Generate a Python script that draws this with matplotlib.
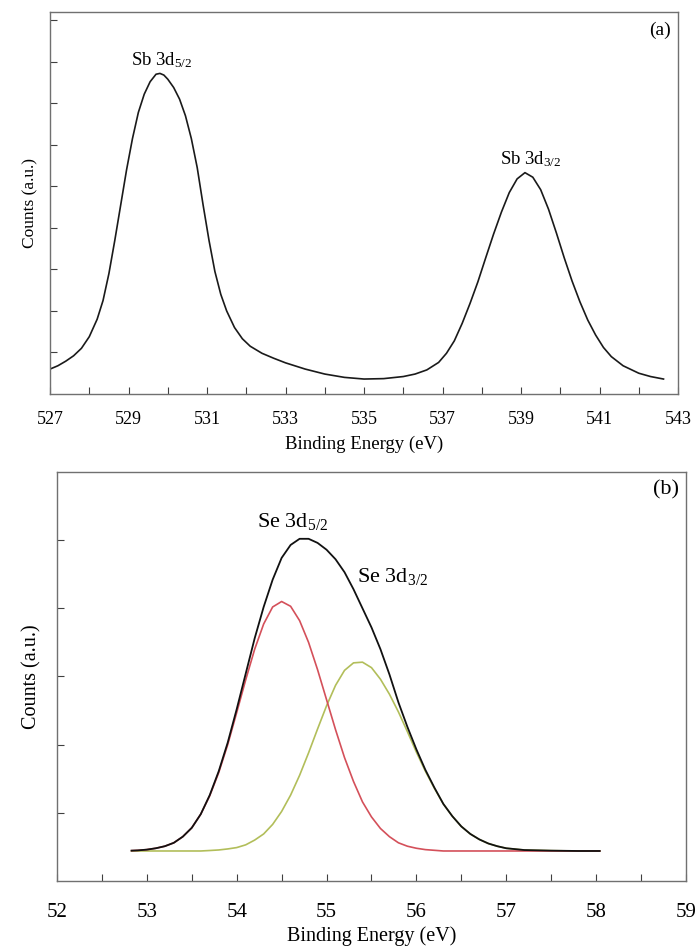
import numpy as np
import matplotlib
matplotlib.use("Agg")
import matplotlib.pyplot as plt
from matplotlib.ticker import MultipleLocator

plt.rcParams['font.family'] = ['Liberation Serif', 'DejaVu Serif']
plt.rcParams['mathtext.fontset'] = 'custom'
plt.rcParams['mathtext.rm'] = 'Liberation Serif'
plt.rcParams['mathtext.it'] = 'Liberation Serif'

# --- (a) Sb 3d spectrum ---
sb_energy = [527.0, 527.2, 527.4, 527.6, 527.8, 528.0, 528.2, 528.35, 528.5, 528.65,
             528.8, 528.95, 529.1, 529.25, 529.4, 529.55, 529.7, 529.8, 529.9, 530.0,
             530.15, 530.3, 530.45, 530.6, 530.75, 530.9, 531.05, 531.2, 531.35, 531.5,
             531.7, 531.9, 532.1, 532.4, 532.7, 533.0, 533.5, 534.0, 534.5, 535.0,
             535.5, 536.0, 536.3, 536.6, 536.9, 537.1, 537.3, 537.5, 537.7, 537.9,
             538.1, 538.3, 538.5, 538.7, 538.9, 539.1, 539.3, 539.5, 539.7, 539.9,
             540.1, 540.3, 540.5, 540.7, 540.9, 541.1, 541.3, 541.6, 542.0, 542.3,
             542.63]
sb_counts = [0.60, 0.68, 0.79, 0.92, 1.10, 1.38, 1.80, 2.25, 2.90, 3.70,
             4.55, 5.40, 6.15, 6.78, 7.22, 7.52, 7.70, 7.72, 7.68, 7.58,
             7.38, 7.10, 6.70, 6.15, 5.45, 4.55, 3.70, 2.95, 2.40, 2.00,
             1.60, 1.33, 1.15, 0.98, 0.86, 0.75, 0.60, 0.48, 0.40, 0.36,
             0.37, 0.42, 0.48, 0.58, 0.76, 0.98, 1.28, 1.70, 2.18, 2.70,
             3.28, 3.85, 4.38, 4.85, 5.18, 5.33, 5.22, 4.92, 4.45, 3.88,
             3.28, 2.72, 2.22, 1.78, 1.42, 1.12, 0.90, 0.68, 0.50, 0.42,
             0.36]
sb_ticks = [527, 529, 531, 533, 535, 537, 539, 541, 543]

# --- (b) Se 3d spectrum with fitted components ---
se_energy = [52.83, 52.9, 53.0, 53.1, 53.2, 53.3, 53.4, 53.5, 53.6, 53.7,
             53.8, 53.9, 54.0, 54.1, 54.2, 54.3, 54.4, 54.5, 54.6, 54.7,
             54.8, 54.9, 55.0, 55.1, 55.2, 55.3, 55.4, 55.5, 55.6, 55.7,
             55.8, 55.9, 56.0, 56.1, 56.2, 56.3, 56.4, 56.5, 56.6, 56.7,
             56.8, 56.9, 57.0, 57.2, 57.5, 57.8, 58.04]
se_total = [0.445, 0.449, 0.46, 0.48, 0.51, 0.56, 0.65, 0.78, 0.98, 1.26,
            1.61, 2.03, 2.52, 3.04, 3.56, 4.02, 4.42, 4.74, 4.93, 5.02,
            5.02, 4.96, 4.86, 4.72, 4.53, 4.28, 4.00, 3.72, 3.40, 3.03,
            2.62, 2.26, 1.93, 1.63, 1.37, 1.13, 0.95, 0.80, 0.69, 0.61,
            0.55, 0.51, 0.48, 0.454, 0.445, 0.44, 0.44]
se_52 = [0.445, 0.449, 0.46, 0.48, 0.51, 0.56, 0.65, 0.78, 0.98, 1.25,
         1.59, 2.00, 2.47, 2.95, 3.40, 3.77, 4.02, 4.10, 4.03, 3.82,
         3.50, 3.10, 2.66, 2.22, 1.81, 1.46, 1.16, 0.94, 0.77, 0.65,
         0.56, 0.51, 0.48, 0.46, 0.45, 0.44, 0.44, 0.44, 0.44, 0.44,
         0.44, 0.44, 0.44, 0.44, 0.44, 0.44, 0.44]
se_32 = [0.44, 0.44, 0.44, 0.44, 0.44, 0.44, 0.44, 0.44, 0.44, 0.447,
         0.455, 0.47, 0.49, 0.53, 0.60, 0.69, 0.83, 1.02, 1.26, 1.55,
         1.88, 2.23, 2.57, 2.87, 3.09, 3.20, 3.21, 3.13, 2.96, 2.74,
         2.48, 2.19, 1.89, 1.61, 1.36, 1.13, 0.95, 0.80, 0.69, 0.61,
         0.55, 0.51, 0.48, 0.454, 0.445, 0.44, 0.44]
se_ticks = [52, 53, 54, 55, 56, 57, 58, 59]

fig = plt.figure(figsize=(6.95, 9.48), dpi=100)
ax1 = fig.add_axes([0.072, 0.5844, 0.9036, 0.4030])
ax2 = fig.add_axes([0.082, 0.0707, 0.905, 0.4314])

def style_axis(ax, pad):
    for s in ax.spines.values():
        s.set_color('#707070')
        s.set_linewidth(1.0)
    ax.tick_params(axis='both', which='both', direction='in', length=5,
                   width=0.8, color='#404040', top=False, right=False)
    ax.tick_params(axis='x', which='major', pad=pad)
    ax.set_yticklabels([])

# panel (a)
ax1.plot(sb_energy, sb_counts, color='#1a1a1a', lw=1.2)
ax1.set_xlim(527, 543)
ax1.set_ylim(0, 9.2)
ax1.set_xticks(sb_ticks)
ax1.xaxis.set_minor_locator(MultipleLocator(1))
ax1.set_yticks(range(1, 10))
style_axis(ax1, 12)
ax1.tick_params(axis='x', labelsize=13)
ax1.set_xlabel('Binding Energy (eV)', fontsize=13.5)
ax1.xaxis.set_label_coords(0.5, -0.108)
ax1.set_ylabel('Counts (a.u.)', fontsize=12.5)
ax1.yaxis.set_label_coords(-0.019, 0.5)
ax1.text(529.85, 8.05, 'Sb 3d$_{5/2}$', fontsize=13.5, ha='center', va='center')
ax1.text(539.25, 5.65, 'Sb 3d$_{3/2}$', fontsize=13.5, ha='center', va='center')
ax1.text(0.971, 0.953, '(a)', transform=ax1.transAxes, fontsize=14,
         ha='center', va='center')

# panel (b)
ax2.plot(se_energy, se_32, color='#b2be5a', lw=1.2)
ax2.plot(se_energy, se_52, color='#d4505a', lw=1.2)
ax2.plot(se_energy, se_total, color='#111111', lw=1.3)
ax2.set_xlim(52, 59)
ax2.set_ylim(0, 6.0)
ax2.set_xticks(se_ticks)
ax2.xaxis.set_minor_locator(MultipleLocator(0.5))
ax2.set_yticks(range(1, 6))
style_axis(ax2, 16)
ax2.tick_params(axis='x', labelsize=15)
ax2.set_xlabel('Binding Energy (eV)', fontsize=14.5)
ax2.xaxis.set_label_coords(0.5, -0.11)
ax2.set_ylabel('Counts (a.u.)', fontsize=14.5)
ax2.yaxis.set_label_coords(-0.024, 0.5)
ax2.text(54.62, 5.28, 'Se 3d$_{5/2}$', fontsize=16, ha='center', va='center')
ax2.text(55.34, 4.46, 'Se 3d$_{3/2}$', fontsize=16, ha='left', va='center')
ax2.text(0.969, 0.956, '(b)', transform=ax2.transAxes, fontsize=16,
         ha='center', va='center')

fig.savefig('out.png', dpi=100)
